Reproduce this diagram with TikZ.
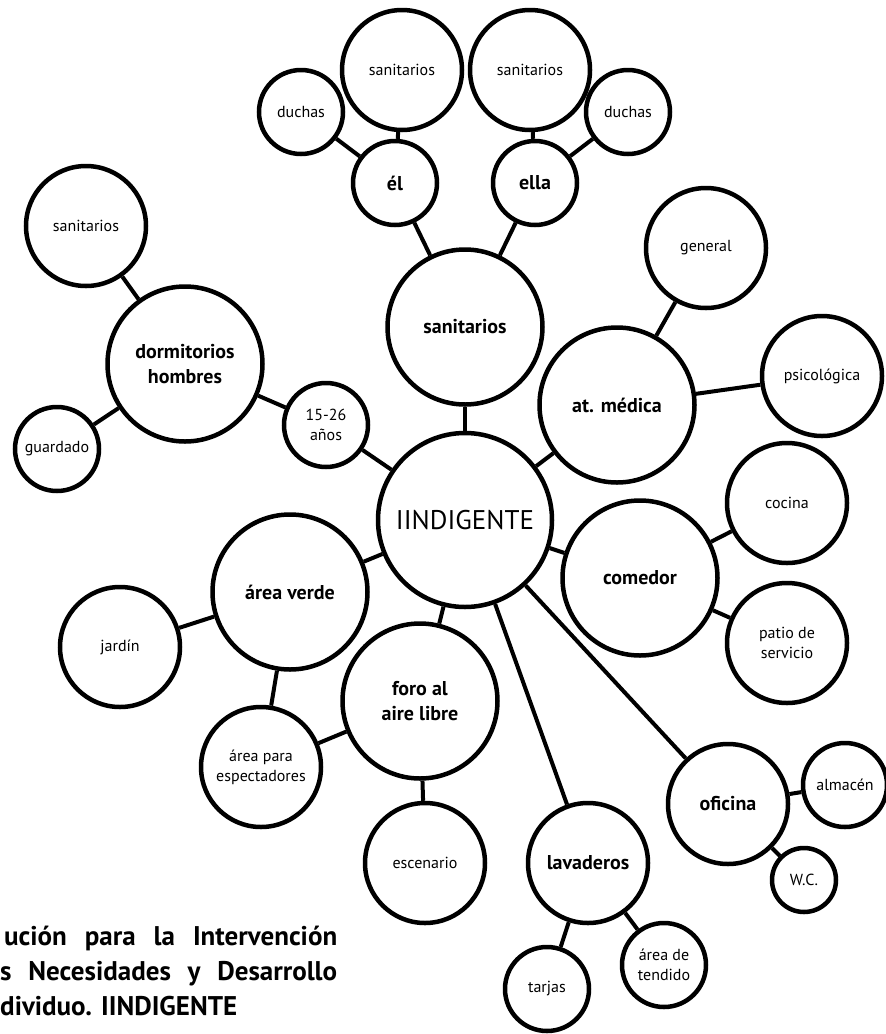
\documentclass[tikz,border=0pt]{standalone}
\usepackage{fontspec}
\setmainfont{PT Sans}

\tikzset{
    bubble/.style = {circle, draw, line width=4.5pt, inner sep=0pt, align=center,
                     font=\fontsize{16}{20}\selectfont},
    hub/.style    = {bubble, minimum size=174pt, font=\fontsize{27}{30}\selectfont},
    mid/.style    = {bubble, minimum size=155pt, font=\fontsize{20}{25}\selectfont\bfseries},
    leaf/.style   = {bubble, minimum size=120pt},
    small/.style  = {bubble, minimum size=84pt},
    tiny/.style   = {bubble, minimum size=64pt},
    strong/.style = {font=\fontsize{20}{25}\selectfont\bfseries},
    link/.style   = {line width=4pt},
    caption/.style = {anchor=base west, inner sep=0pt, font=\fontsize{27}{35}\selectfont\bfseries}
}

\begin{document}
\begin{tikzpicture}[x=1pt, y=-1pt]
    \useasboundingbox (0,0) rectangle (886,1034);

    % Centre
    \node[hub] (hub) at (465,520) {IINDIGENTE};

    % Sanitarios branch
    \node[mid] (san) at (465,327) {sanitarios};
    \node[small, strong] (el) at (395,183) {él};
    \node[small, strong] (ella) at (535,183) {ella};
    \node[leaf] (sanEl) at (402,70) {sanitarios};
    \node[leaf] (sanElla) at (530,70) {sanitarios};
    \node[small] (duEl) at (301,112) {duchas};
    \node[small] (duElla) at (628,112) {duchas};

    % Dormitorios branch
    \node[mid] (dorm) at (185,364) {dormitorios\\hombres};
    \node[leaf] (sanDorm) at (86,226) {sanitarios};
    \node[small] (guard) at (57,449) {guardado};
    \node[small] (anos) at (326,425) {15-26\\años};

    % At. medica branch
    \node[mid] (med) at (617,405) {at. médica};
    \node[leaf] (gen) at (706,248) {general};
    \node[leaf] (psi) at (822,376) {psicológica};

    % Comedor branch
    \node[mid] (com) at (640,578) {comedor};
    \node[leaf] (coc) at (787,503) {cocina};
    \node[leaf] (pat) at (787,643) {patio de\\servicio};

    % Oficina branch
    \node[leaf, strong] (ofi) at (728,804) {oficina};
    \node[small] (alm) at (845,785) {almacén};
    \node[tiny] (wc) at (804,880) {W.C.};

    % Lavaderos branch
    \node[leaf, strong] (lav) at (588,863) {lavaderos};
    \node[small] (tar) at (547,989) {tarjas};
    \node[small] (ten) at (664,965) {área de\\tendido};

    % Area verde and foro branch
    \node[mid] (verde) at (290,592) {área verde};
    \node[leaf] (jar) at (120,647) {jardín};
    \node[leaf] (esp) at (261,767) {área para\\espectadores};
    \node[mid] (foro) at (420,701) {foro al\\aire libre};
    \node[leaf] (esc) at (425,863) {escenario};

    % Draw the connectors
    \foreach \a/\b in {hub/san, san/el, san/ella, el/sanEl, el/duEl, ella/sanElla, ella/duElla,
                       hub/anos, anos/dorm, dorm/sanDorm, dorm/guard,
                       hub/med, med/gen, med/psi,
                       hub/com, com/coc, com/pat,
                       hub/ofi, ofi/alm, ofi/wc,
                       hub/lav, lav/tar, lav/ten,
                       hub/verde, verde/jar, verde/esp,
                       hub/foro, foro/esp, foro/esc}
        \draw[link] (\a) -- (\b);

    % Caption
    \node[caption] (cap1) at (4,945) {\makebox[333pt][s]{ución para la Intervención}};
    \node[caption] (cap2) at (0,980) {\makebox[337pt][s]{s Necesidades y Desarrollo}};
    \node[caption] (cap3) at (0,1015) {dividuo. IINDIGENTE};

\end{tikzpicture}
\end{document}
